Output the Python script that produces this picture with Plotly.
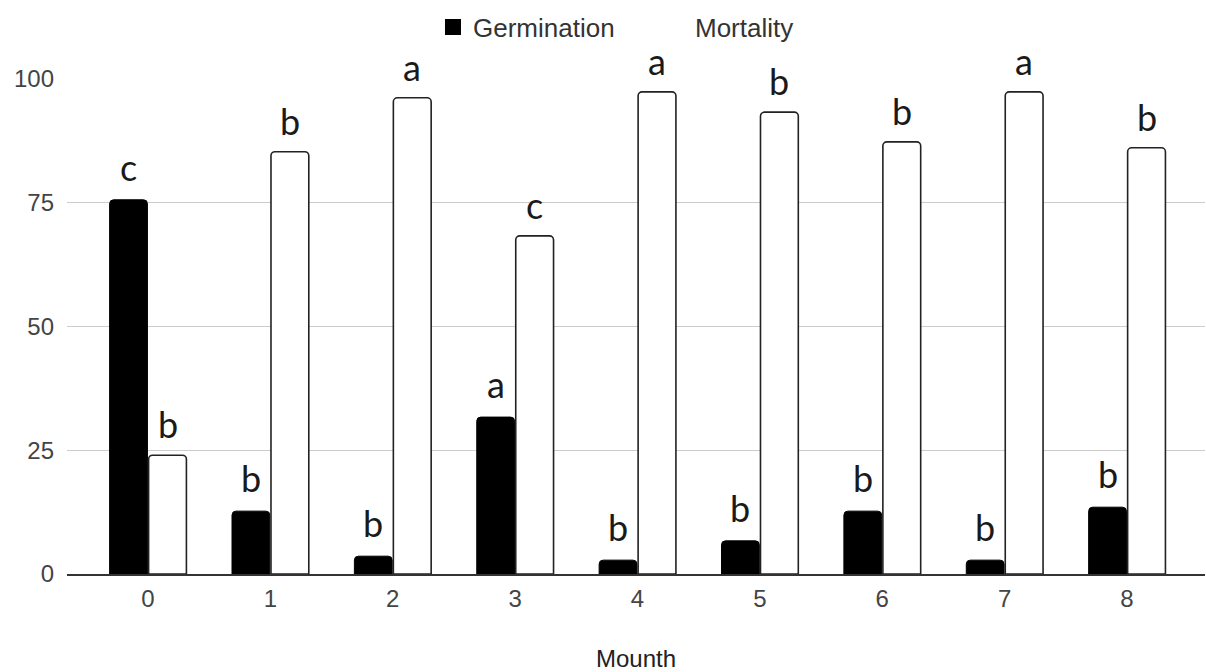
import plotly.graph_objects as go

months = ["0", "1", "2", "3", "4", "5", "6", "7", "8"]
germination = [75.6, 12.7, 3.6, 31.7, 2.8, 6.7, 12.7, 2.8, 13.5]
mortality = [24.0, 85.3, 96.2, 68.3, 97.4, 93.3, 87.3, 97.4, 86.1]
germ_letters = ["c", "b", "b", "a", "b", "b", "b", "b", "b"]
mort_letters = ["b", "b", "a", "c", "a", "b", "b", "a", "b"]
y_ticks = [0, 25, 50, 75, 100]

FONT = "Arial, 'Liberation Sans', sans-serif"
LETTER_FONT = "Lato, 'Open Sans', sans-serif"

fig = go.Figure()
fig.add_trace(go.Bar(
    x=months, y=germination, name="Germination", showlegend=False,
    marker=dict(color="#000000", line=dict(color="#000000", width=1)),
))
fig.add_trace(go.Bar(
    x=months, y=mortality, name="Mortality", showlegend=False,
    marker=dict(color="#ffffff", line=dict(color="#222222", width=1.6)),
))
# legend entries
fig.add_trace(go.Scatter(
    x=[None], y=[None], mode="markers", name="Germination",
    marker=dict(symbol="square", size=16, color="#000000"),
))
fig.add_trace(go.Scatter(
    x=[None], y=[None], mode="markers", name="Mortality",
    marker=dict(symbol="square", size=16, color="#ffffff"),
))

annotations = []
for m, g, lab in zip(months, germination, germ_letters):
    annotations.append(dict(x=m, y=g, text=lab, showarrow=False, xshift=-19.5,
                            yanchor="bottom", yshift=9,
                            font=dict(family=LETTER_FONT, size=36, color="#1a1a1a")))
for m, v, lab in zip(months, mortality, mort_letters):
    annotations.append(dict(x=m, y=v, text=lab, showarrow=False, xshift=19.5,
                            yanchor="bottom", yshift=7,
                            font=dict(family=LETTER_FONT, size=36, color="#1a1a1a")))

fig.update_layout(
    width=1206, height=672,
    margin=dict(l=67, r=1, t=79, b=98),
    paper_bgcolor="white", plot_bgcolor="white",
    barmode="group", bargap=0.363, bargroupgap=0.03,
    barcornerradius=4,
    font=dict(family=FONT, size=24, color="#444444"),
    legend=dict(orientation="h", x=0.3216, xanchor="left", y=1.105, yanchor="middle",
                font=dict(family=FONT, size=26, color="#333333"),
                entrywidth=177, bgcolor="rgba(0,0,0,0)"),
    annotations=annotations,
    showlegend=True,
)
fig.update_xaxes(
    type="category", range=[-0.662, 8.637], automargin=False,
    showline=True, linecolor="#333333", linewidth=1.5,
    showgrid=False, ticks="", tickfont=dict(size=24, color="#444444"),
    ticklabelstandoff=2,
    title=dict(text="Mounth", font=dict(size=24, color="#222222"), standoff=47),
)
fig.update_yaxes(
    range=[0, 100], tickvals=y_ticks, automargin=False,
    showgrid=True, gridcolor="#cccccc", gridwidth=1,
    zeroline=False, showline=False, ticks="",
    tickfont=dict(size=24, color="#444444"), ticklabelstandoff=12,
)

fig.write_html("out.html", config={"displayModeBar": False},
               post_script="document.body.style.margin='0';")
